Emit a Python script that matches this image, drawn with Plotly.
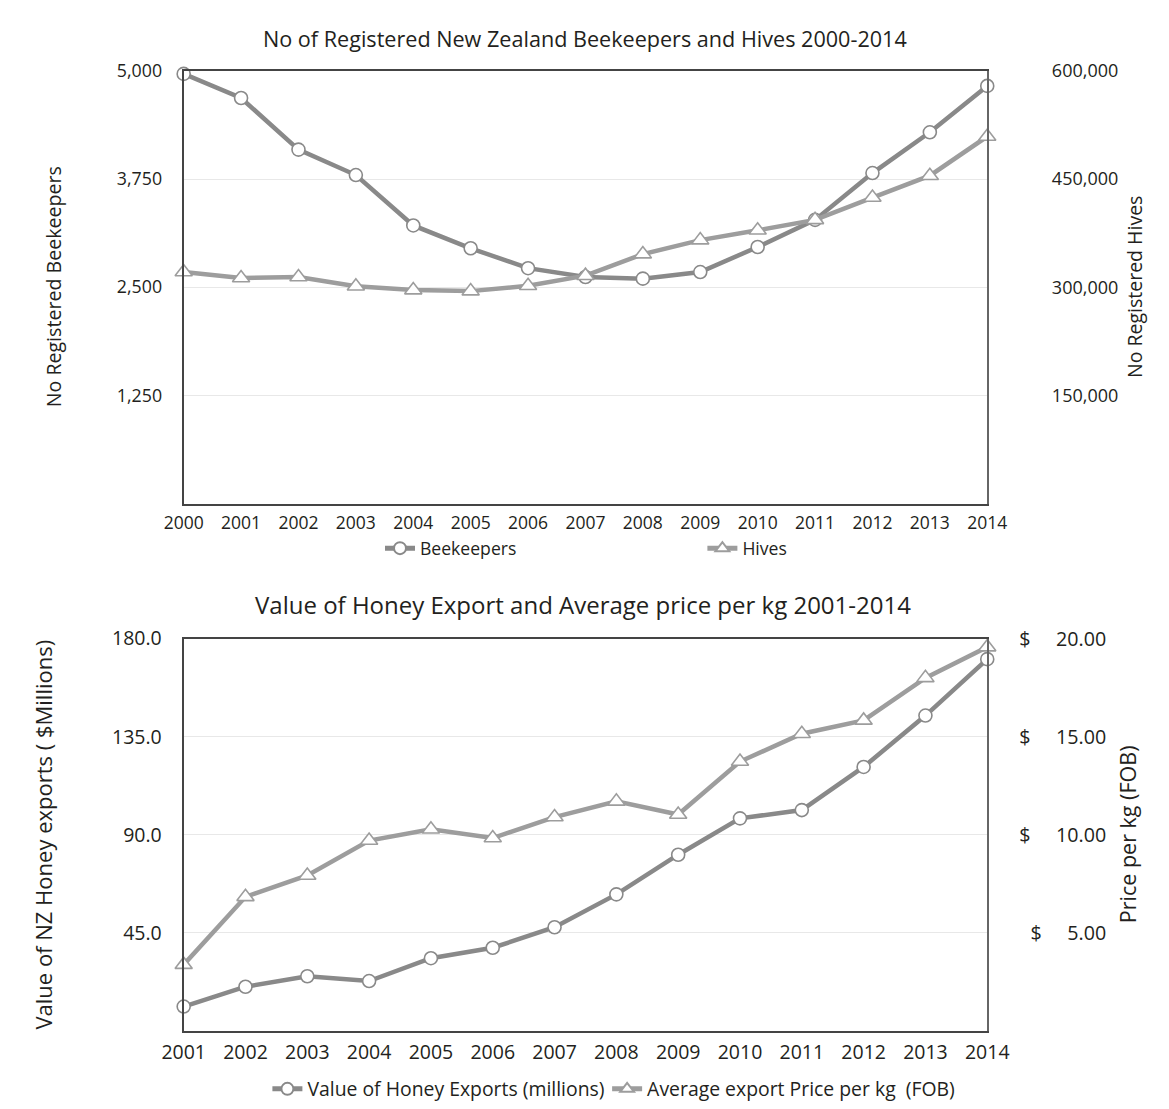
import plotly.graph_objects as go

# ---------------- data ----------------
years_top = [2000, 2001, 2002, 2003, 2004, 2005, 2006, 2007, 2008, 2009, 2010, 2011, 2012, 2013, 2014]
beekeepers = [4965, 4686, 4090, 3796, 3214, 2950, 2720, 2618, 2599, 2675, 2965, 3278, 3819, 4290, 4826]
hives = [321000, 312800, 314200, 301400, 296000, 294600, 302000, 316000, 345900, 365300, 378900, 393400, 424300, 454600, 509000]

years_bot = [2001, 2002, 2003, 2004, 2005, 2006, 2007, 2008, 2009, 2010, 2011, 2012, 2013, 2014]
export_value = [11.1, 20.2, 25.0, 22.8, 33.3, 38.1, 47.5, 62.6, 80.8, 97.5, 101.3, 121.1, 144.7, 170.6]
price_per_kg = [3.37, 6.83, 7.92, 9.70, 10.28, 9.83, 10.90, 11.70, 11.03, 13.73, 15.15, 15.83, 18.00, 19.57]

bk_ticks = [1250, 2500, 3750, 5000]
bk_ticktext = ["1,250", "2,500", "3,750", "5,000"]
hv_ticks = [150000, 300000, 450000, 600000]
hv_ticktext = ["150,000", "300,000", "450,000", "600,000"]
ev_ticks = [45, 90, 135, 180]
ev_ticktext = ["45.0", "90.0", "135.0", "180.0"]
pr_ticks = [5, 10, 15, 20]
NB = "\u00a0"
pr_ticktext = ["\u2007$" + NB * 5 + "5.00", "$" + NB * 5 + "10.00", "$" + NB * 5 + "15.00", "$" + NB * 5 + "20.00"]

title_top = "No of Registered New Zealand Beekeepers and Hives 2000-2014"
title_bot = "Value of Honey Export and Average price per kg 2001-2014"

# ---------------- geometry helpers ----------------
W, H = 1169, 1109
def px(x):
    return x / W
def py(y):
    return 1 - y / H

FONT = "Open Sans"
TXT = "#231f20"
DARK = "#898989"
LIGHT = "#9d9d9d"

fig = go.Figure()

fig.add_trace(go.Scatter(
    x=years_top, y=beekeepers, name="Beekeepers", mode="lines+markers",
    xaxis="x", yaxis="y", legend="legend", cliponaxis=False,
    line=dict(color=DARK, width=4.5),
    marker=dict(symbol="circle", size=13, color="white", line=dict(color=DARK, width=1.6)),
))
fig.add_trace(go.Scatter(
    x=years_top, y=hives, name="Hives", mode="lines+markers",
    xaxis="x", yaxis="y2", legend="legend2", cliponaxis=False,
    line=dict(color=LIGHT, width=4.5),
    marker=dict(symbol="triangle-up", size=15, color="white", line=dict(color=LIGHT, width=1.6)),
))
fig.add_trace(go.Scatter(
    x=years_bot, y=export_value, name="Value of Honey Exports (millions)", mode="lines+markers",
    xaxis="x2", yaxis="y3", legend="legend3", cliponaxis=False,
    line=dict(color=DARK, width=4.5),
    marker=dict(symbol="circle", size=13, color="white", line=dict(color=DARK, width=1.6)),
))
fig.add_trace(go.Scatter(
    x=years_bot, y=price_per_kg, name="Average export Price per kg " + NB + "(FOB)", mode="lines+markers",
    xaxis="x2", yaxis="y4", legend="legend4", cliponaxis=False,
    line=dict(color=LIGHT, width=4.5),
    marker=dict(symbol="triangle-up", size=15, color="white", line=dict(color=LIGHT, width=1.6)),
))

axis_line = dict(showline=True, linecolor="#444444", linewidth=2)
grid = dict(showgrid=True, gridcolor="#e8e8e8", gridwidth=1)

X_L, X_R = 168, 1003
xd = [px(X_L), px(X_R)]
leg_common = dict(yanchor="middle", xanchor="left", orientation="h", itemwidth=30,
                  bgcolor="rgba(0,0,0,0)", itemsizing="constant")
fig.update_layout(
    width=W, height=H,
    margin=dict(l=0, r=0, t=0, b=0),
    paper_bgcolor="white", plot_bgcolor="white",
    font=dict(family=FONT, color=TXT),
    xaxis=dict(domain=xd, anchor="y", range=[2000, 2014], tickvals=years_top,
               ticktext=[str(v) for v in years_top], ticks="", showgrid=False, zeroline=False,
               mirror=True, tickfont=dict(size=17.5), ticklabelstandoff=2, **axis_line),
    yaxis=dict(domain=[py(499.5), py(58)], anchor="x", range=[0, 5000], tickvals=bk_ticks,
               ticktext=bk_ticktext, ticks="", zeroline=False, tickfont=dict(size=17.8),
               ticklabelstandoff=16, **axis_line, **grid),
    yaxis2=dict(overlaying="y", anchor="x", side="right", range=[0, 600000], tickvals=hv_ticks,
                ticktext=hv_ticktext, ticks="", showgrid=False, zeroline=False,
                tickfont=dict(size=18), ticklabelstandoff=59,
                showline=True, linecolor="#666666", linewidth=2),
    xaxis2=dict(domain=xd, anchor="y3", range=[2001, 2014], tickvals=years_bot,
                ticktext=[str(v) for v in years_bot], ticks="", showgrid=False, zeroline=False,
                mirror=True, tickfont=dict(size=19.5), ticklabelstandoff=3, **axis_line),
    yaxis3=dict(domain=[py(1037.3), py(637.3)], anchor="x2", range=[0, 180], tickvals=ev_ticks,
                ticktext=ev_ticktext, ticks="", zeroline=False, tickfont=dict(size=19.5),
                ticklabelstandoff=16, **axis_line, **grid),
    yaxis4=dict(overlaying="y3", anchor="x2", side="right", range=[0, 20], tickvals=pr_ticks,
                ticktext=pr_ticktext, ticks="", showgrid=False, zeroline=False,
                tickfont=dict(size=19.7), ticklabelstandoff=26,
                showline=True, linecolor="#666666", linewidth=2),
    showlegend=True,
    legend=dict(x=px(372), y=py(545), font=dict(size=17.6), **leg_common),
    legend2=dict(x=px(707), y=py(545), font=dict(size=17.6), **leg_common),
    legend3=dict(x=px(255), y=py(1097), font=dict(size=19.4), **leg_common),
    legend4=dict(x=px(608), y=py(1097), font=dict(size=19.4), **leg_common),
    annotations=[
        dict(text=title_top, x=px(585), y=py(25), xref="paper", yref="paper", showarrow=False,
             xanchor="center", yanchor="middle", font=dict(size=21.6, color=TXT)),
        dict(text=title_bot, x=px(583), y=py(602), xref="paper", yref="paper", showarrow=False,
             xanchor="center", yanchor="middle", font=dict(size=24, color=TXT)),
        dict(text="No Registered Beekeepers", x=px(33), y=py(278), xref="paper", yref="paper",
             showarrow=False, textangle=-90, xanchor="center", yanchor="middle",
             font=dict(size=19.6, color=TXT)),
        dict(text="No Registered Hives", x=px(1156), y=py(278), xref="paper", yref="paper",
             showarrow=False, textangle=-90, xanchor="center", yanchor="middle",
             font=dict(size=19.5, color=TXT)),
        dict(text="Value of NZ Honey exports ( $Millions)", x=px(22), y=py(837), xref="paper", yref="paper",
             showarrow=False, textangle=-90, xanchor="center", yanchor="middle",
             font=dict(size=22, color=TXT)),
        dict(text="Price per kg (FOB)", x=px(1149), y=py(837), xref="paper", yref="paper",
             showarrow=False, textangle=-90, xanchor="center", yanchor="middle",
             font=dict(size=21.5, color=TXT)),
    ],
)

fig.write_html("out.html")
